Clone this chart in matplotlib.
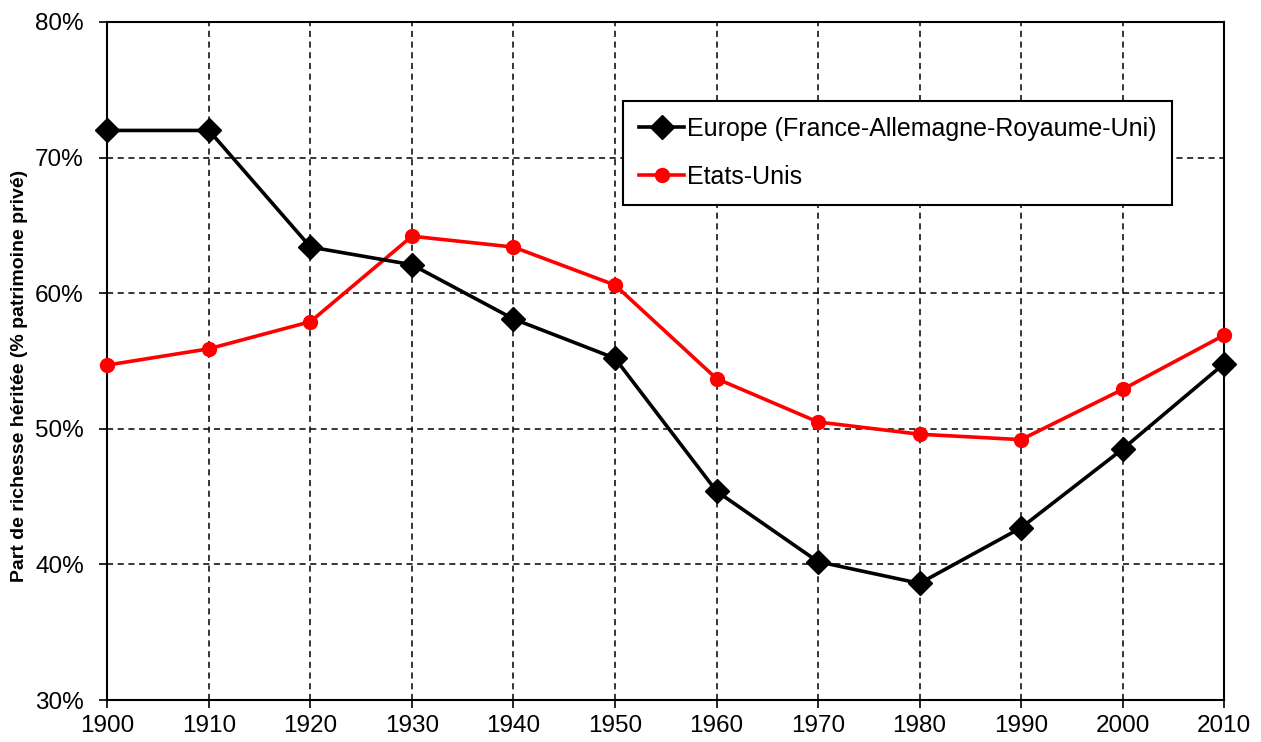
import numpy as np
import matplotlib.pyplot as plt
from matplotlib.ticker import FuncFormatter

plt.rcParams['font.family'] = ['Liberation Sans', 'DejaVu Sans']

years = [1900, 1910, 1920, 1930, 1940, 1950, 1960, 1970, 1980, 1990, 2000, 2010]
europe = [72.0, 72.0, 63.4, 62.1, 58.1, 55.2, 45.4, 40.2, 38.6, 42.7, 48.5, 54.8]
usa = [54.7, 55.9, 57.9, 64.2, 63.4, 60.6, 53.7, 50.5, 49.6, 49.2, 52.9, 56.9]

fig = plt.figure(figsize=(12.61, 7.42), dpi=100)
ax = fig.add_axes([0.0852, 0.0566, 0.8855, 0.9138])

ax.plot(years, europe, color='black', lw=2.6, marker='D', markersize=12,
        label='Europe (France-Allemagne-Royaume-Uni)', clip_on=False, zorder=4)
ax.plot(years, usa, color='#ff0000', lw=2.6, marker='o', markersize=10,
        label='Etats-Unis', clip_on=False, zorder=3)

ax.set_xlim(1900, 2010)
ax.set_ylim(30, 80)
ax.set_xticks(years)
ax.set_yticks([30, 40, 50, 60, 70, 80])
ax.yaxis.set_major_formatter(FuncFormatter(lambda v, p: '%d%%' % v))
ax.tick_params(axis='both', labelsize=17.5, direction='out', length=6, width=1.2, colors='black')
ax.tick_params(axis='x', pad=5)
ax.tick_params(axis='y', pad=11)

ax.grid(True, color='black', ls=(0, (4, 3)), lw=1.1)
for s in ax.spines.values():
    s.set_linewidth(1.5)

ax.set_ylabel('Part de richesse héritée (% patrimoine privé)', fontsize=14,
              fontweight='bold')
ax.yaxis.set_label_coords(-0.071, 0.478)

leg = ax.legend(loc='upper left', bbox_to_anchor=(0.4617, 0.8835), fontsize=18,
                frameon=True, fancybox=False, edgecolor='black', framealpha=1,
                handlelength=1.8, handletextpad=0.1, borderpad=0.65, labelspacing=0.95,
                borderaxespad=0)
leg.get_frame().set_linewidth(1.5)

fig.savefig('out.png', dpi=100)
